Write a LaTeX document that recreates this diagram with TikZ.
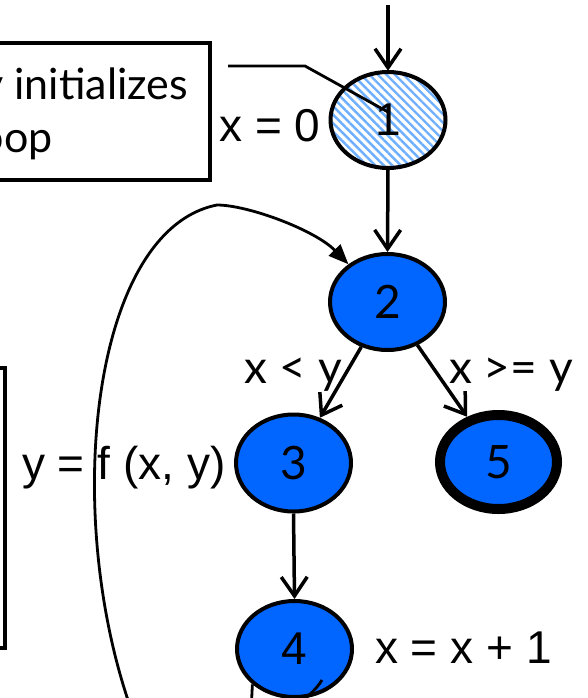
\documentclass[tikz,border=0pt]{standalone}
\usepackage{fontspec}
\setmainfont{Lato}
\newfontfamily\arialf{Liberation Sans}
\usetikzlibrary{shapes.geometric,arrows.meta,patterns.meta}
\definecolor{nodeblue}{RGB}{0,102,255}
\definecolor{stripeblue}{RGB}{110,175,255}
\begin{document}
\begin{tikzpicture}[x=1pt,y=-1pt,
  bnode/.style={ellipse, draw, line width=4pt, fill=nodeblue, minimum width=115pt, minimum height=96pt, inner sep=0pt, font=\fontsize{46}{46}\selectfont},
  edge/.style={line width=3.5pt, -{Straight Barb[length=19pt,width=26pt,line width=3.5pt]}},
  thinline/.style={line width=2.8pt},
  lab/.style={inner sep=0pt, font=\fontsize{46}{46}\selectfont},
  alab/.style={inner sep=0pt, font=\arialf\fontsize{46}{46}\selectfont},
  box/.style={draw, line width=3.5pt, inner sep=0pt}
]
\useasboundingbox (0,0) rectangle (588,698);
\clip (0,0) rectangle (588,698);

% boxes
\node[box, minimum width=260pt, minimum height=137pt] (cbox) at (80,111.5) {};
\node[box, minimum width=100pt, minimum height=280pt] (lbox) at (-45,508) {};
\node[lab, font=\fontsize{43}{43}\selectfont, anchor=base east] (ct1) at (188,100) {y initializes};
\node[lab, font=\fontsize{43}{43}\selectfont, anchor=base east] (ct2) at (53,152) {loop};

% nodes
\node[bnode, fill=none, preaction={fill=white}, pattern={Lines[angle=-45,distance=6pt,line width=2.4pt]}, pattern color=stripeblue, font=\arialf\fontsize{46}{46}\selectfont] (n1) at (388,120) {1};
\node[bnode] (n2) at (387.5,302) {2};
\node[bnode, minimum height=97pt] (n3) at (293.5,463) {3};
\node[bnode, line width=10pt, minimum width=117pt, minimum height=94pt] (n5) at (498.5,462) {5};
\node[bnode, font=\arialf\fontsize{46}{46}\selectfont] (n4) at (294.5,649) {4};

% labels
\node[alab, anchor=base] (l0) at (270,142) {x = 0};
\node[lab, anchor=base east] (llt) at (342,383) {x < y};
\node[lab, anchor=base west] (lge) at (449,383) {x >= y};
\node[alab, anchor=base west] (lf) at (22,479) {y = f (x, y)};
\node[alab, anchor=base west] (lx) at (375,663) {x = x + 1};

% connectors
\coordinate (top) at (388,5);
\draw[edge] (top) -- (n1.north);
\draw[edge] (n1.south) -- (n2.north);
\draw[edge] (n2) -- (n3);
\draw[edge] (n2) -- (n5);
\draw[edge] (n3.south) -- (n4.north);

% callout line
\coordinate (c0) at (228,66);
\coordinate (c1) at (305,66);
\coordinate (c2) at (388,112);
\draw[thinline] (c0) -- (c1) -- (c2);

% loop back curve
\coordinate (lp0) at (322,680);
\coordinate (lp1) at (135,720);
\coordinate (lp2) at (217,205);
\draw[thinline, -{Triangle[length=20pt,width=16pt]}] (lp0) .. controls (295,725) and (170,760) .. (lp1)
  .. controls (60,520) and (90,230) .. (lp2)
  .. controls (248,205) and (315,230) .. (n2.136);
\coordinate (lq1) at (251,712);
\draw[thinline] (n4.-140) -- (lq1);
\end{tikzpicture}
\end{document}
